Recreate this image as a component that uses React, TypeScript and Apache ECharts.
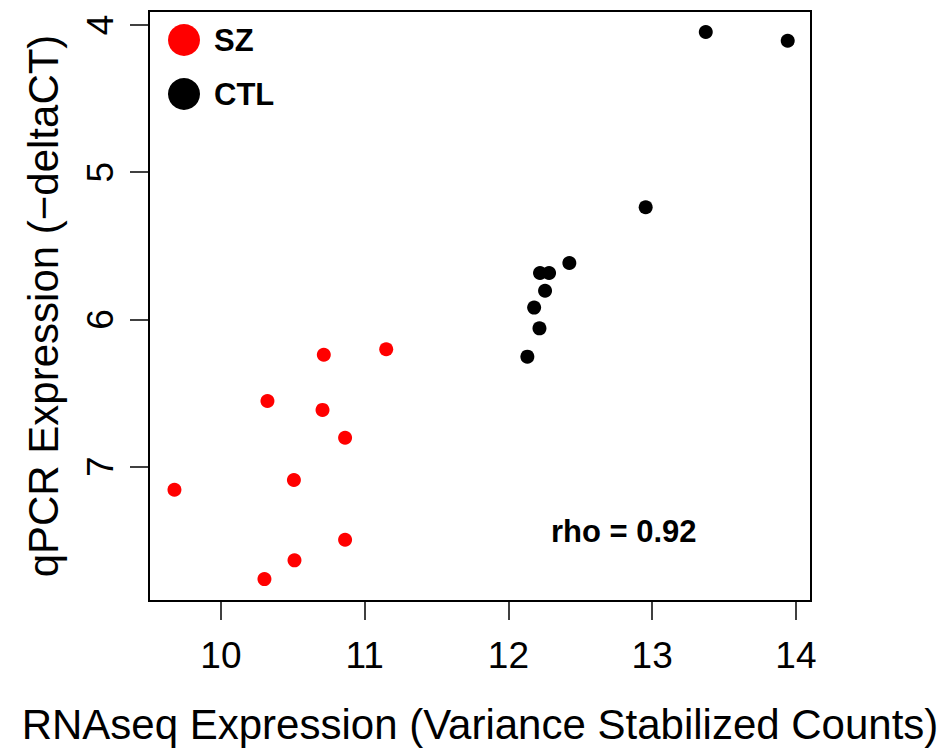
import React, { useEffect, useRef } from "react";
import * as echarts from "echarts";

const xTicks = [10, 11, 12, 13, 14];
const yTicks = [4, 5, 6, 7];

const szRNAseq = [10.716, 11.15, 10.324, 10.707, 10.864, 9.677, 10.508, 10.864, 10.512, 10.303];
const szQPCR = [6.24, 6.203, 6.554, 6.615, 6.804, 7.157, 7.091, 7.497, 7.637, 7.764];

const ctlRNAseq = [12.955, 12.424, 12.22, 12.283, 12.255, 12.179, 12.216, 12.132, 13.373, 13.943];
const ctlQPCR = [5.238, 5.617, 5.685, 5.685, 5.805, 5.92, 6.061, 6.253, 4.048, 4.107];

const groups = ["SZ", "CTL"];
const rhoText = "rho = 0.92";

const FONT = "'Liberation Sans', Helvetica, Arial, sans-serif";

export default function App() {
  const ref = useRef<HTMLDivElement>(null);
  useEffect(() => {
    if (!ref.current) return;
    const chart = echarts.init(ref.current, null, { renderer: "svg" });
    const pairs = (xs: number[], ys: number[]) => xs.map((x, i) => [x, ys[i]]);
    chart.setOption({
      animation: false,
      backgroundColor: "#ffffff",
      textStyle: { fontFamily: FONT },
      grid: {
        left: 149,
        top: 11,
        width: 662,
        height: 590,
        show: true,
        borderColor: "#000",
        borderWidth: 2,
        backgroundColor: "transparent",
      },
      legend: {
        orient: "vertical",
        left: 163,
        top: 19,
        icon: "circle",
        itemWidth: 32,
        itemHeight: 32,
        itemGap: 22,
        data: groups,
        itemStyle: { opacity: 1 },
        textStyle: {
          fontFamily: FONT,
          fontWeight: "bold",
          fontSize: 31,
          color: "#000",
          padding: [0, 0, 0, 9],
        },
      },
      xAxis: {
        type: "value",
        min: 9.5,
        max: 14.105,
        name: "RNAseq Expression (Variance Stabilized Counts)",
        nameLocation: "middle",
        nameGap: 102,
        nameTextStyle: { fontFamily: FONT, fontSize: 42, color: "#000" },
        axisLine: { show: false },
        splitLine: { show: false },
        axisTick: {
          show: true,
          customValues: xTicks,
          length: 19,
          lineStyle: { color: "#000", width: 1.5 },
        },
        axisLabel: {
          customValues: xTicks,
          fontFamily: FONT,
          fontSize: 37,
          color: "#000",
          margin: 36,
        },
      },
      yAxis: {
        type: "value",
        inverse: true,
        min: 3.905,
        max: 7.913,
        name: "qPCR Expression (\u2212deltaCT)",
        nameLocation: "middle",
        nameGap: 85,
        nameTextStyle: { fontFamily: FONT, fontSize: 42, color: "#000" },
        axisLine: { show: false },
        splitLine: { show: false },
        axisTick: {
          show: true,
          customValues: yTicks,
          length: 19,
          lineStyle: { color: "#000", width: 1.5 },
        },
        axisLabel: {
          customValues: yTicks,
          rotate: 90,
          fontFamily: FONT,
          fontSize: 37,
          color: "#000",
          margin: 30,
        },
      },
      graphic: [
        {
          type: "text",
          left: 551,
          top: 516,
          style: {
            text: rhoText,
            font: `bold 31px ${FONT}`,
            fill: "#000",
          },
        },
      ],
      series: [
        {
          name: groups[0],
          type: "scatter",
          symbolSize: 14,
          itemStyle: { color: "#ff0000", opacity: 1 },
          data: pairs(szRNAseq, szQPCR),
        },
        {
          name: groups[1],
          type: "scatter",
          symbolSize: 14,
          itemStyle: { color: "#000000", opacity: 1 },
          data: pairs(ctlRNAseq, ctlQPCR),
        },
      ],
    });
    return () => chart.dispose();
  }, []);
  return <div ref={ref} style={{ width: 951, height: 752, position: "absolute", left: 0, top: 0 }} />;
}
